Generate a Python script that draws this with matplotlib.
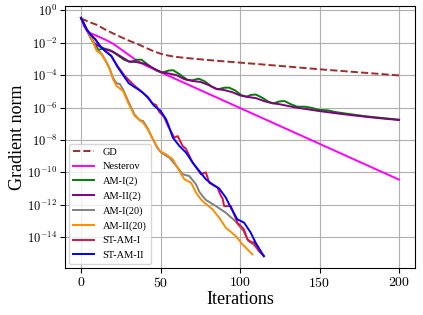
import numpy as np
import matplotlib
matplotlib.use("Agg")
import matplotlib.pyplot as plt
from matplotlib.ticker import FixedLocator, FuncFormatter, NullLocator

plt.rcParams["font.family"] = ["Liberation Serif", "DejaVu Serif"]
plt.rcParams["mathtext.fontset"] = "cm"

# iterations and log10(gradient norm)
gd_it = [0, 5, 10, 15, 20, 25, 30, 35, 40, 45, 50, 55, 60, 70, 80, 100, 120, 150, 175, 200]
gd_lg = [-0.5, -0.72, -0.9, -1.18, -1.42, -1.65, -1.87, -2.06, -2.28, -2.5, -2.68, -2.8,
         -2.88, -2.98, -3.07, -3.23, -3.39, -3.64, -3.83, -4.02]

nes_it = [0, 2, 4, 6, 10, 15, 20, 25, 30, 35, 40, 45, 50, 100, 150, 200]
nes_lg = [-0.47, -1.0, -1.3, -1.42, -1.58, -1.8, -2.05, -2.4, -2.75, -3.1, -3.37, -3.6,
          -3.82, -6.03, -8.24, -10.45]

am1_2_it = [0, 4, 8, 11, 14, 18, 22, 27, 31, 35, 38, 42, 47, 51, 55, 58, 62, 67, 70, 74,
            78, 82, 86, 90, 93, 97, 101, 104, 107, 110, 114, 118, 121, 125, 128, 132,
            136, 141, 145, 150, 155, 160, 170, 180, 190, 200]
am1_2_lg = [-0.47, -1.3, -2.0, -2.45, -2.35, -2.45, -2.7, -3.05, -3.2, -3.05, -3.05,
            -3.35, -3.7, -3.85, -3.72, -3.7, -3.95, -4.3, -4.32, -4.22, -4.4, -4.7, -4.88,
            -4.78, -4.77, -4.95, -5.25, -5.33, -5.22, -5.2, -5.4, -5.65, -5.74, -5.62,
            -5.6, -5.8, -5.95, -5.95, -6.02, -6.15, -6.17, -6.28, -6.42, -6.55, -6.65, -6.75]

am2_2_it = [0, 3, 6, 8, 10, 15, 20, 25, 30, 35, 40, 45, 50, 55, 60, 65, 70, 75, 80, 85,
            90, 95, 100, 105, 110, 115, 120, 125, 130, 135, 140, 150, 160, 170, 180, 190, 200]
am2_2_lg = [-0.47, -1.1, -1.7, -2.0, -2.15, -2.4, -2.55, -2.85, -3.15, -3.2, -3.3, -3.55,
            -3.8, -3.9, -4.0, -4.25, -4.36, -4.42, -4.6, -4.85, -4.92, -5.05, -5.25, -5.35,
            -5.42, -5.6, -5.73, -5.8, -5.9, -6.0, -6.07, -6.22, -6.35, -6.47, -6.58, -6.68, -6.77]

am1_20_it = [0, 2.5, 4.6, 7.7, 9.8, 12.9, 16, 18, 20, 22.3, 24.4, 26.5, 29.6, 33.75, 37, 39,
             42, 45.2, 48, 50.4, 55.6, 60.8, 63.9, 68.1, 72.3, 74.4, 76.4, 78.5, 84.8, 91,
             96.9, 102.1, 105.2, 108.3, 113, 115]
am1_20_lg = [-0.47, -0.95, -1.38, -1.95, -2.4, -2.68, -3.2, -3.6, -4.15, -4.5, -4.55, -4.9,
             -5.6, -6.45, -6.8, -6.83, -7.3, -7.96, -8.5, -8.78, -9.1, -9.71, -10.12, -10.23,
             -10.74, -11.2, -11.46, -11.7, -12.08, -12.49, -13.0, -13.62, -14.24, -14.44,
             -14.96, -15.17]

am2_20_it = [0, 2.5, 4.6, 7.7, 9.8, 12.9, 16, 18, 20.2, 22.3, 26.5, 29.6, 33.75, 39, 42,
             45.2, 49.4, 53.5, 57.7, 61.9, 65, 69.2, 72.3, 75.4, 77.5, 82.7, 86.9, 91, 97.3,
             101.5, 107.8]
am2_20_lg = [-0.47, -0.95, -1.38, -2.0, -2.5, -2.72, -3.23, -3.64, -4.26, -4.67, -4.98, -5.7,
             -6.52, -6.93, -7.35, -7.96, -8.68, -8.89, -9.2, -9.92, -10.43, -10.64, -11.25,
             -11.67, -11.87, -12.28, -12.8, -13.41, -13.93, -14.44, -15.06]

st1_it = [0, 3.5, 6, 9, 12, 15, 19, 23, 27.5, 30.5, 33, 36, 39, 42, 45, 47.3, 49, 52, 55,
          58.7, 60.8, 63.9, 66, 70.2, 75.4, 78.5, 80.6, 85.8, 88, 89, 90, 94.2, 98.3, 102.5,
          104.6, 107.7, 108.5, 111.9, 115]
st1_lg = [-0.47, -1.17, -1.5, -1.8, -2.2, -2.5, -2.8, -3.45, -4.05, -4.35, -4.6, -4.85, -5.1,
          -5.35, -5.75, -5.85, -6.25, -6.55, -7.2, -7.86, -7.76, -8.38, -8.55, -9.4, -10.12,
          -10.0, -10.64, -10.94, -11.46, -11.6, -12.08, -12.08, -13.1, -13.52, -14.13,
          -14.34, -14.3, -14.86, -15.17]

st2_it = [0, 3.5, 6, 9, 12, 15, 19, 23, 27.5, 30, 33, 36, 39, 42, 46, 50, 53.5, 55, 57.7,
          61.9, 66, 70.2, 74.4, 78.5, 82.7, 86.9, 91, 94.2, 98.3, 102.5, 106.7, 109.8, 113, 115]
st2_lg = [-0.47, -1.17, -1.5, -1.8, -2.2, -2.5, -2.82, -3.5, -4.15, -4.5, -4.7, -4.88, -5.1,
          -5.39, -5.9, -6.2, -6.73, -7.1, -7.85, -8.38, -8.78, -9.4, -9.92, -10.43, -10.74,
          -11.0, -11.55, -12.18, -12.9, -13.1, -13.72, -14.34, -14.86, -15.17]

series = [
    ("GD", gd_it, gd_lg, "brown", "--"),
    ("Nesterov", nes_it, nes_lg, "magenta", "-"),
    ("AM-I(2)", am1_2_it, am1_2_lg, "green", "-"),
    ("AM-II(2)", am2_2_it, am2_2_lg, "purple", "-"),
    ("AM-I(20)", am1_20_it, am1_20_lg, "gray", "-"),
    ("AM-II(20)", am2_20_it, am2_20_lg, "darkorange", "-"),
    ("ST-AM-I", st1_it, st1_lg, "crimson", "-"),
    ("ST-AM-II", st2_it, st2_lg, "blue", "-"),
]

fig = plt.figure(figsize=(4.23, 3.15), dpi=100)
ax = fig.add_axes([0.154, 0.149, 0.827, 0.832])

for name, it, lg, c, ls in series:
    ax.plot(it, 10.0 ** np.array(lg), color=c, ls=ls, lw=1.4, label=name)

ax.set_yscale("log")
ax.yaxis.set_major_locator(FixedLocator(10.0 ** np.arange(-14, 1, 2)))
ax.yaxis.set_minor_locator(NullLocator())
ax.yaxis.set_major_formatter(FuncFormatter(lambda v, _: r"$10^{%d}$" % round(np.log10(v))))
ax.set_xticks([0, 50, 100, 150, 200])
ax.xaxis.set_major_formatter(FuncFormatter(lambda v, _: r"$%d$" % v))
ax.tick_params(axis="y", labelsize=9, pad=2)
ax.tick_params(axis="x", labelsize=10, pad=2)
ax.grid(True, color="#b0b0b0", lw=0.8)

ax.set_xlabel("Iterations", fontsize=13, labelpad=1)
ax.set_ylabel("Gradient norm", fontsize=13, labelpad=1)
ax.legend(loc="lower left", fontsize=7.5, borderaxespad=0.4)

fig.savefig("out.png", dpi=100)
